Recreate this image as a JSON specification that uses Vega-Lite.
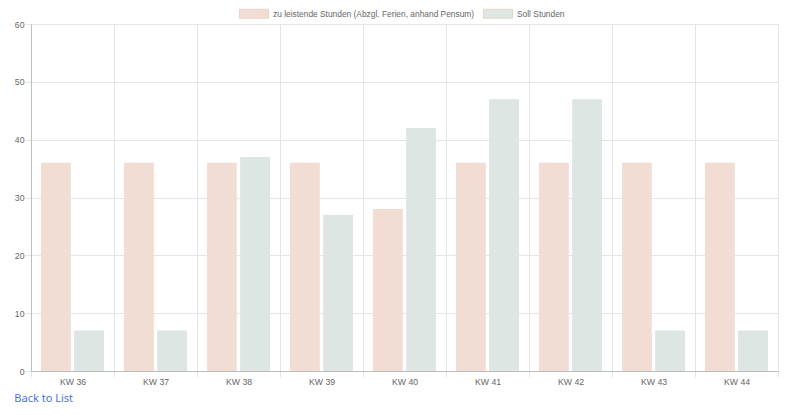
{
  "$schema": "https://vega.github.io/schema/vega-lite/v6.json",
  "autosize": {"type": "none"},
  "width": 747,
  "height": 347,
  "padding": {"left": 31, "top": 24, "right": 22, "bottom": 44},
  "background": "white",
  "title": {
    "text": "Back to List",
    "orient": "bottom",
    "anchor": "start",
    "dx": 0,
    "offset": 7,
    "font": "Noto Sans",
    "fontSize": 11,
    "fontWeight": "normal",
    "color": "#4a72d9"
  },
  "data": {
    "values": [
      {"week": "KW 36", "series": "zu leistende Stunden (Abzgl. Ferien, anhand Pensum)", "hours": 36},
      {"week": "KW 36", "series": "Soll Stunden", "hours": 7},
      {"week": "KW 37", "series": "zu leistende Stunden (Abzgl. Ferien, anhand Pensum)", "hours": 36},
      {"week": "KW 37", "series": "Soll Stunden", "hours": 7},
      {"week": "KW 38", "series": "zu leistende Stunden (Abzgl. Ferien, anhand Pensum)", "hours": 36},
      {"week": "KW 38", "series": "Soll Stunden", "hours": 37},
      {"week": "KW 39", "series": "zu leistende Stunden (Abzgl. Ferien, anhand Pensum)", "hours": 36},
      {"week": "KW 39", "series": "Soll Stunden", "hours": 27},
      {"week": "KW 40", "series": "zu leistende Stunden (Abzgl. Ferien, anhand Pensum)", "hours": 28},
      {"week": "KW 40", "series": "Soll Stunden", "hours": 42},
      {"week": "KW 41", "series": "zu leistende Stunden (Abzgl. Ferien, anhand Pensum)", "hours": 36},
      {"week": "KW 41", "series": "Soll Stunden", "hours": 47},
      {"week": "KW 42", "series": "zu leistende Stunden (Abzgl. Ferien, anhand Pensum)", "hours": 36},
      {"week": "KW 42", "series": "Soll Stunden", "hours": 47},
      {"week": "KW 43", "series": "zu leistende Stunden (Abzgl. Ferien, anhand Pensum)", "hours": 36},
      {"week": "KW 43", "series": "Soll Stunden", "hours": 7},
      {"week": "KW 44", "series": "zu leistende Stunden (Abzgl. Ferien, anhand Pensum)", "hours": 36},
      {"week": "KW 44", "series": "Soll Stunden", "hours": 7}
    ]
  },
  "mark": {"type": "bar"},
  "encoding": {
    "x": {
      "field": "week",
      "type": "nominal",
      "sort": null,
      "scale": {"paddingInner": 0, "paddingOuter": 0},
      "axis": {
        "title": null,
        "labelAngle": 0,
        "tickBand": "extent",
        "grid": true,
        "tickSize": 6,
        "labelPadding": 0
      }
    },
    "xOffset": {
      "field": "series",
      "type": "nominal",
      "sort": ["zu leistende Stunden (Abzgl. Ferien, anhand Pensum)", "Soll Stunden"],
      "scale": {"paddingInner": 0.1, "paddingOuter": 0.3}
    },
    "y": {
      "field": "hours",
      "type": "quantitative",
      "scale": {"domain": [0, 60], "nice": false},
      "axis": {
        "title": null,
        "values": [0, 10, 20, 30, 40, 50, 60],
        "tickSize": 6,
        "labelPadding": 1
      }
    },
    "color": {
      "field": "series",
      "type": "nominal",
      "sort": ["zu leistende Stunden (Abzgl. Ferien, anhand Pensum)", "Soll Stunden"],
      "scale": {
        "domain": ["zu leistende Stunden (Abzgl. Ferien, anhand Pensum)", "Soll Stunden"],
        "range": ["#f2ddd5", "#dde6e3"]
      },
      "legend": {
        "title": null,
        "orient": "none",
        "direction": "horizontal",
        "legendX": 208,
        "legendY": -25.5,
        "symbolType": "M-1,-0.31L1,-0.31L1,0.31L-1,0.31Z",
        "symbolSize": 841,
        "symbolStrokeWidth": 1,
        "symbolStrokeColor": "#e8d3cb",
        "labelOffset": 4,
        "labelLimit": 400,
        "columnPadding": 6,
        "labelFontSize": 8.4,
        "labelColor": "#666666",
        "labelFont": "Liberation Sans"
      }
    }
  },
  "config": {
    "font": "Liberation Sans",
    "view": {"stroke": null},
    "axis": {
      "labelFont": "Liberation Sans",
      "labelFontSize": 8.7,
      "labelColor": "#666666",
      "gridColor": "#e5e5e5",
      "tickColor": "#e5e5e5",
      "domainColor": "#bdbdbd"
    }
  }
}
